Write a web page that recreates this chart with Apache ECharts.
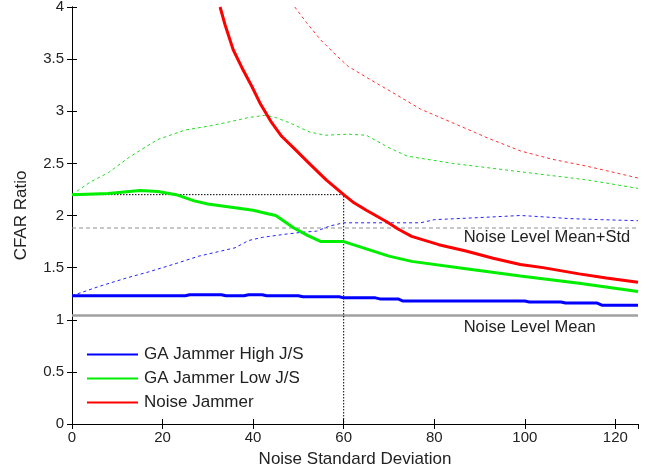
<!DOCTYPE html>
<html>
<head>
<meta charset="utf-8">
<script src="https://cdn.jsdelivr.net/npm/echarts@6/dist/echarts.min.js"></script>
<style>html,body{margin:0;padding:0;background:#fff}#c{width:649px;height:471px}</style>
</head>
<body>
<div id="c"></div>
<script>
// Data (x = noise standard deviation, y = CFAR ratio)
const highJS = [[0,1.23],[25,1.23],[26,1.24],[33,1.24],[34,1.23],[38,1.23],[39,1.24],[42,1.24],[43,1.23],[50,1.23],[51,1.22],[59,1.22],[60,1.21],[67,1.21],[68,1.20],[72,1.20],[73,1.18],[100,1.18],[101,1.17],[108,1.17],[109,1.16],[116,1.16],[117,1.14],[125,1.14]];
const highJSUpper = [[0,1.23],[6,1.32],[12,1.40],[17,1.46],[23,1.54],[28,1.61],[33,1.66],[36,1.69],[39,1.76],[42,1.79],[47,1.82],[51,1.84],[54,1.85],[57,1.90],[60,1.93],[70,1.93],[77,1.93],[80,1.96],[90,1.98],[99,2.00],[103,1.99],[110,1.97],[117,1.96],[125,1.95]];
const lowJS = [[0,2.20],[8,2.21],[15,2.24],[19,2.23],[23,2.20],[27,2.14],[30,2.11],[36,2.075],[40,2.05],[43,2.02],[45,2.00],[49,1.88],[52,1.81],[55,1.75],[60,1.75],[65,1.68],[70,1.61],[75,1.56],[87,1.49],[99,1.42],[112,1.35],[125,1.27]];
const lowJSUpper = [[0,2.20],[1,2.23],[4,2.32],[8,2.41],[13,2.57],[19,2.73],[25,2.82],[30.5,2.86],[35,2.90],[39,2.94],[42.5,2.96],[45,2.94],[48,2.89],[52.5,2.80],[56,2.77],[61,2.78],[65,2.77],[70,2.65],[74,2.57],[84,2.50],[99,2.42],[114,2.34],[125,2.26]];
const noise = [[32.7,4.0],[33.8,3.83],[35.6,3.59],[37.5,3.42],[39.7,3.24],[41.5,3.08],[44.1,2.89],[46.3,2.76],[49.6,2.62],[52.6,2.49],[56.2,2.34],[60,2.20],[62,2.13],[65,2.05],[69.5,1.94],[72,1.87],[75,1.80],[81,1.72],[87,1.66],[93,1.59],[99,1.53],[104,1.50],[112,1.44],[118,1.40],[125,1.36]];
const noiseUpper = [[49.2,4.0],[51.8,3.85],[54.8,3.69],[58.5,3.53],[61,3.43],[66,3.30],[70,3.20],[77,3.02],[84,2.89],[92,2.74],[99,2.62],[106,2.54],[114,2.47],[125,2.36]];
const noiseMean = 1.04;
const noiseMeanStd = 1.88;
const refX = 60, refY = 2.2;
const xRange = [0, 125];
const legendNames = ['GA Jammer High J/S', 'GA Jammer Low J/S', 'Noise Jammer'];
const annoMean = 'Noise Level Mean';
const annoMeanStd = 'Noise Level Mean+Std';
const annoX = 86.5;

const font = 'Liberation Sans, Arial, sans-serif';
const txt = '#222';
const chart = echarts.init(document.getElementById('c'));

function solid(name, data, color, w) {
  return {name, type:'line', data, showSymbol:false, symbol:'none', lineStyle:{color, width:w}, itemStyle:{color}, z:5, animation:false};
}
function dashed(name, data, color) {
  return {name, type:'line', data, showSymbol:false, symbol:'none', lineStyle:{color, width:1, type:[3,3]}, itemStyle:{color}, z:4, animation:false};
}
const hiddenAxis = {show:true, axisLine:{show:true, lineStyle:{color:'#000', width:1}}, axisLabel:{show:false}, splitLine:{show:false}, axisTick:{show:true, inside:true, length:5, lineStyle:{color:'#000'}}};

chart.setOption({
  animation:false,
  backgroundColor:'#fff',
  grid:{left:72, right:11, top:7, bottom:47, containLabel:false, outerBoundsMode:'none'},
  legend:{
    data:legendNames, orient:'vertical', left:82, top:341, itemWidth:51, itemHeight:14, itemGap:7,
    textStyle:{fontFamily:font, fontSize:17, lineHeight:17, color:txt, padding:[0,0,0,1]}, icon:'path://M0,6 L52,6 L52,8 L0,8 Z', selectedMode:false
  },
  xAxis:[{
    type:'value', min:xRange[0], max:xRange[1], interval:20, name:'Noise Standard Deviation', nameLocation:'middle', nameGap:27,
    nameTextStyle:{fontFamily:font, fontSize:17, color:txt},
    axisLine:{onZero:false, lineStyle:{color:'#000'}}, axisTick:{inside:true, length:5, lineStyle:{color:'#000'}},
    axisLabel:{fontFamily:font, fontSize:15, color:txt, margin:6, showMaxLabel:false}, splitLine:{show:false}
  }, Object.assign({type:'value', position:'top', min:xRange[0], max:xRange[1], interval:20}, hiddenAxis)],
  yAxis:[{
    type:'value', min:0, max:4, interval:0.5, name:'CFAR Ratio', nameLocation:'middle', nameGap:42,
    nameTextStyle:{fontFamily:font, fontSize:17, color:txt},
    axisLine:{onZero:false, lineStyle:{color:'#000'}}, axisTick:{inside:true, length:5, lineStyle:{color:'#000'}},
    axisLabel:{fontFamily:font, fontSize:15, color:txt, margin:8}, splitLine:{show:false}
  }, Object.assign({type:'value', position:'right', min:0, max:4, interval:0.5}, hiddenAxis)],
  series:[
    {name:'meanLine', type:'line', data:[[xRange[0],noiseMean],[xRange[1],noiseMean]], showSymbol:false, symbol:'none', lineStyle:{color:'#a0a0a0', width:2.5}, z:2},
    {name:'meanStdLine', type:'line', data:[[xRange[0],noiseMeanStd],[xRange[1],noiseMeanStd]], showSymbol:false, symbol:'none', lineStyle:{color:'#909090', width:1, type:[4,3]}, z:2},
    {name:'ref', type:'line', data:[[xRange[0],refY],[refX,refY],[refX,0]], showSymbol:false, symbol:'none', lineStyle:{color:'#000', width:1, type:[1.5,1.5]}, z:3},
    dashed('hiU', highJSUpper, '#2222ff'),
    dashed('loU', lowJSUpper, '#22dd22'),
    dashed('noU', noiseUpper, '#ff3333'),
    solid(legendNames[0], highJS, '#0000ff', 3),
    solid(legendNames[1], lowJS, '#00ee00', 3),
    solid(legendNames[2], noise, '#ff0000', 3)
  ]
});

const p1 = chart.convertToPixel({gridIndex:0}, [annoX, noiseMeanStd]);
const p2 = chart.convertToPixel({gridIndex:0}, [annoX, noiseMean]);
chart.setOption({graphic:[
  {type:'text', x:p1[0], y:p1[1]+1, style:{text:annoMeanStd, fontFamily:font, fontSize:16.5, fill:txt, textVerticalAlign:'top'}, z:10},
  {type:'text', x:p2[0], y:p2[1]+3, style:{text:annoMean, fontFamily:font, fontSize:16.5, fill:txt, textVerticalAlign:'top'}, z:10}
]});
</script>
</body>
</html>
